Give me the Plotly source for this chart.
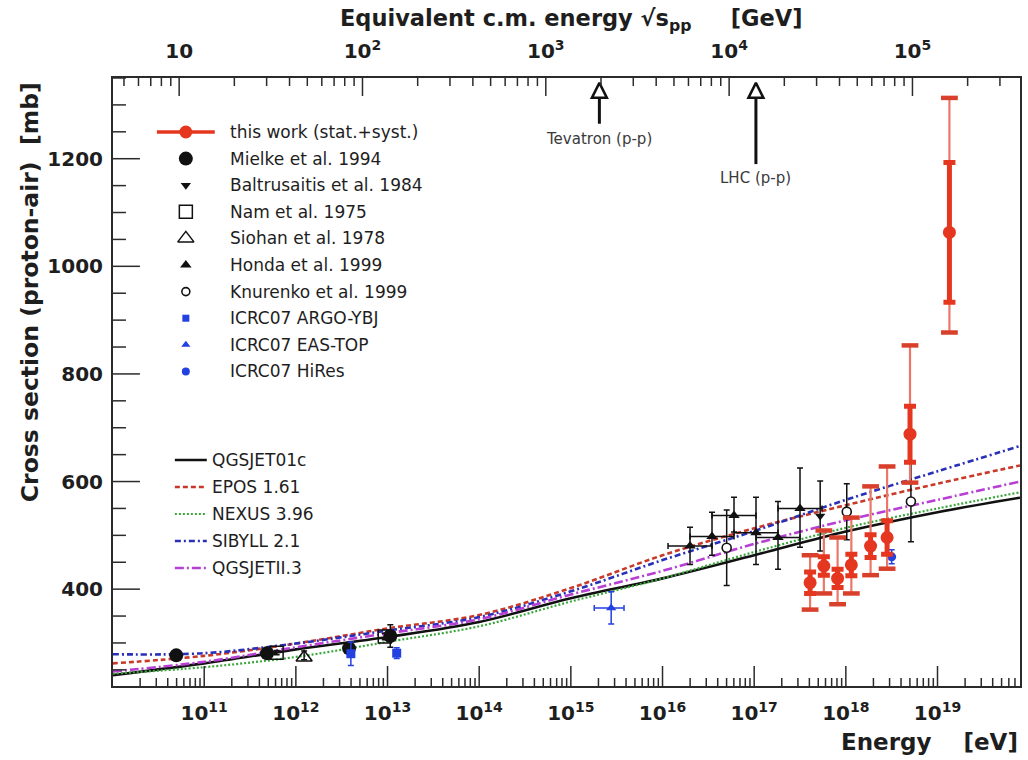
import numpy as np
import plotly.graph_objects as go

FONT = "DejaVu Sans"
AXIS_COLOR = "#2b2b2b"
TEXT_COLOR = "#1e1e1e"

# ---------------------------------------------------------------------------
# Model predictions: log10(E / eV) grid and proton-air cross section [mb]
# ---------------------------------------------------------------------------
model_log10E = [10.0, 11.0, 12.0, 13.0, 14.0, 15.0, 16.0, 17.0, 18.0, 19.0, 19.9]
qgsjet01c = [240, 262, 288, 311, 339, 383, 420, 463, 507, 543, 570]
epos161 = [262, 276, 299, 327, 352, 402, 463, 513, 556, 596, 630]
nexus396 = [243, 255, 274, 302, 331, 377, 420, 469, 514, 550, 580]
sibyll21 = [279, 281, 299, 323, 348, 396, 454, 508, 566, 619, 666]
qgsjetII3 = [247, 265, 292, 318, 344, 390, 434, 484, 528, 566, 600]

# ---------------------------------------------------------------------------
# Measurements (log10(E / eV), sigma [mb], errors [mb])
# ---------------------------------------------------------------------------
this_log10E = [17.61, 17.76, 17.91, 18.06, 18.27, 18.45, 18.70, 19.13]
this_sigma = [412, 443, 420, 445, 480, 496, 688, 1063]
this_stat = [20, 17, 17, 20, 21, 31, 52, 130]
this_tot_up = [51, 66, 76, 88, 111, 132, 165, 250]
this_tot_dn = [50, 51, 48, 53, 54, 58, 90, 186]

mielke_log10E = [10.695, 11.686, 12.58, 13.03]
mielke_sigma = [277, 281, 290, 313]
mielke_err = [4, 4, 6, 21]

baltrusaitis_log10E = [17.72]
baltrusaitis_sigma = [536]
baltrusaitis_err = [65]

nam_log10E = [11.79, 12.97]
nam_sigma = [282, 312]
nam_err = [4, 6]

siohan_log10E = [12.09]
siohan_sigma = [273]
siohan_err_up = [12]
siohan_err_dn = [4]

honda_log10E = [16.30, 16.54, 16.78, 17.02, 17.26, 17.50]
honda_sigma = [480, 498, 537, 505, 496, 550]
honda_err_up = [35, 45, 34, 66, 67, 75]
honda_err_dn = [34, 35, 31, 59, 59, 72]
honda_bin_halfwidth = [0.24, 0.24, 0.24, 0.24, 0.24, 0.24]  # decades

knurenko_log10E = [16.70, 18.01, 18.71]
knurenko_sigma = [477, 544, 563]
knurenko_err = [70, 52, 75]

argo_log10E = [12.60, 13.10]
argo_sigma = [280, 281]
argo_err = [22, 10]

eastop_log10E = [15.44]
eastop_sigma = [365]
eastop_err = [30]
eastop_bin_lo = [0.185]  # decades
eastop_bin_hi = [0.14]

hires_log10E = [18.50]
hires_sigma = [460]
hires_err = [13]

# collider reference energies (sqrt(s), GeV)
collider_names = ["Tevatron (p-p)", "LHC (p-p)"]
collider_sqrt_s = [1960.0, 14000.0]

# tick decades
energy_decades = [11, 12, 13, 14, 15, 16, 17, 18, 19]
sqrt_s_decades = [1, 2, 3, 4, 5]

# ---------------------------------------------------------------------------
M_PROTON = 0.938  # GeV
X_RANGE = [10.005, 19.9]      # log10(E/eV)
Y_RANGE = [220, 1350]          # mb
Y_MAJOR, Y_MINOR = 200, 50


def energy(log10E):
    return 10.0 ** np.asarray(log10E, dtype=float)


def log_sqrt_s(log10E):
    """log10 of the equivalent nucleon-nucleon c.m. energy in GeV."""
    return 0.5 * (np.asarray(log10E, dtype=float) - 9.0 + np.log10(2.0 * M_PROTON))


def log_minor_ticks(lo, hi):
    """2..9 x 10^n tick positions inside a log10 range."""
    vals = []
    for n in range(int(np.floor(lo)), int(np.ceil(hi)) + 1):
        for k in range(2, 10):
            v = k * 10.0 ** n
            if lo <= np.log10(v) <= hi:
                vals.append(v)
    return vals


def power_label(p):
    return "10" if p == 1 else "10<sup>%d</sup>" % p


# plot-area geometry in pixels (legend boxes and tick lengths are in pixels)
PLOT_L, PLOT_R, PLOT_T, PLOT_B = 113, 1022, 78, 686
PLOT_W, PLOT_H = PLOT_R - PLOT_L, PLOT_B - PLOT_T
MB_PER_PX = (Y_RANGE[1] - Y_RANGE[0]) / PLOT_H
DECADES_PER_PX = (X_RANGE[1] - X_RANGE[0]) / PLOT_W


def fx(px):
    return (px - PLOT_L) / PLOT_W


def fy(py):
    return (PLOT_B - py) / PLOT_H


def legend_x(px):
    """pixel column -> energy on the bottom log axis"""
    return 10.0 ** (X_RANGE[0] + fx(px) * (X_RANGE[1] - X_RANGE[0]))


def legend_y(py):
    """pixel row -> cross-section value on the left axis"""
    return Y_RANGE[0] + fy(py) * (Y_RANGE[1] - Y_RANGE[0])


fig = go.Figure()

# ---------------------------------------------------------------------------
# Model curves
# ---------------------------------------------------------------------------
model_lines = [
    ("QGSJET01c", qgsjet01c, dict(color="#111111", width=2.6, dash="solid")),
    ("EPOS 1.61", epos161, dict(color="#c8392a", width=2.6, dash="5px,3px")),
    ("NEXUS 3.96", nexus396, dict(color="#39a63a", width=2.2, dash="2px,2px")),
    ("SIBYLL 2.1", sibyll21, dict(color="#2830b8", width=2.6, dash="6px,3px,2px,3px")),
    ("QGSJETII.3", qgsjetII3, dict(color="#b83fd4", width=2.6, dash="9px,3px,2px,3px")),
]
for name, vals, style in model_lines:
    fig.add_trace(go.Scatter(
        x=energy(model_log10E), y=vals, mode="lines", line=style, name=name,
        line_shape="spline", showlegend=False, hoverinfo="skip"))

# ---------------------------------------------------------------------------
# Other measurements
# ---------------------------------------------------------------------------
BLACK = "#111111"
BLUE = "#2340e0"


def add_points(log10E, sigma, err_up, err_dn, marker, bar_color=BLACK,
               bin_lo=None, bin_hi=None):
    E = energy(log10E)
    kw = {}
    if bin_lo is not None:
        kw["error_x"] = dict(
            type="data", symmetric=False,
            array=E * (10.0 ** np.asarray(bin_hi) - 1.0),
            arrayminus=E * (1.0 - 10.0 ** -np.asarray(bin_lo)),
            color=bar_color, thickness=1.5, width=3)
    fig.add_trace(go.Scatter(
        x=E, y=sigma, mode="markers", marker=marker, showlegend=False,
        hoverinfo="skip",
        error_y=dict(type="data", symmetric=False, array=err_up,
                     arrayminus=err_dn, color=bar_color, thickness=1.5, width=3),
        **kw))


MK = {
    "mielke": dict(symbol="circle", size=14, color=BLACK),
    "baltrusaitis": dict(symbol="triangle-down", size=9, color=BLACK),
    "nam": dict(symbol="square-open", size=13, color=BLACK, line=dict(width=1.5, color=BLACK)),
    "siohan": dict(symbol="triangle-up-open", size=14, color=BLACK, line=dict(width=1.5, color=BLACK)),
    "honda": dict(symbol="triangle-up", size=10, color=BLACK),
    "knurenko": dict(symbol="circle", size=9, color="white", line=dict(width=1.6, color=BLACK)),
    "argo": dict(symbol="square", size=9, color=BLUE),
    "eastop": dict(symbol="triangle-up", size=9, color=BLUE),
    "hires": dict(symbol="circle", size=9, color=BLUE),
}

add_points(nam_log10E, nam_sigma, nam_err, nam_err, MK["nam"])
add_points(mielke_log10E, mielke_sigma, mielke_err, mielke_err, MK["mielke"])
add_points(siohan_log10E, siohan_sigma, siohan_err_up, siohan_err_dn, MK["siohan"])
add_points(argo_log10E, argo_sigma, argo_err, argo_err, MK["argo"], bar_color=BLUE)
add_points(eastop_log10E, eastop_sigma, eastop_err, eastop_err, MK["eastop"],
           bar_color=BLUE, bin_lo=eastop_bin_lo, bin_hi=eastop_bin_hi)
add_points(honda_log10E, honda_sigma, honda_err_up, honda_err_dn, MK["honda"],
           bin_lo=honda_bin_halfwidth, bin_hi=honda_bin_halfwidth)
add_points(baltrusaitis_log10E, baltrusaitis_sigma, baltrusaitis_err,
           baltrusaitis_err, MK["baltrusaitis"])
add_points(knurenko_log10E, knurenko_sigma, knurenko_err, knurenko_err, MK["knurenko"])
add_points(hires_log10E, hires_sigma, hires_err, hires_err, MK["hires"], bar_color=BLUE)

# ---------------------------------------------------------------------------
# This work: total (stat.+syst.) outer bars, statistical inner bars
# ---------------------------------------------------------------------------
RED = "#e5371f"
RED_LIGHT = "#e9786b"
E_this = energy(this_log10E)
sig_this = np.asarray(this_sigma, dtype=float)

fig.add_trace(go.Scatter(
    x=E_this, y=sig_this, mode="markers", showlegend=False, hoverinfo="skip",
    marker=dict(size=1, color="rgba(0,0,0,0)"),
    error_y=dict(type="data", symmetric=False, array=this_tot_up,
                 arrayminus=this_tot_dn, color=RED_LIGHT, thickness=2.2, width=0)))
fig.add_trace(go.Scatter(
    x=np.concatenate([E_this, E_this]),
    y=np.concatenate([sig_this + np.asarray(this_tot_up), sig_this - np.asarray(this_tot_dn)]),
    mode="markers", showlegend=False, hoverinfo="skip",
    marker=dict(symbol="line-ew", size=12, line=dict(width=4.5, color="#d9402c"))))
fig.add_trace(go.Scatter(
    x=E_this, y=sig_this, mode="markers", name="this work (stat.+syst.)",
    showlegend=False, hoverinfo="skip",
    marker=dict(symbol="circle", size=13, color=RED),
    error_y=dict(type="data", array=this_stat, color=RED, thickness=5, width=6)))

# ---------------------------------------------------------------------------
# Collider reference arrows on the c.m. energy axis
# ---------------------------------------------------------------------------
arrow_tip = 1341
arrow_base = [1265, 1190]
label_y = [1236, 1165]
for name, ss, base, ly in zip(collider_names, collider_sqrt_s, arrow_base, label_y):
    fig.add_trace(go.Scatter(
        x=[ss, ss], y=[base, arrow_tip - 30], mode="lines", xaxis="x2", yaxis="y",
        line=dict(color="#111111", width=3), showlegend=False, hoverinfo="skip"))
    fig.add_trace(go.Scatter(
        x=[ss], y=[arrow_tip], mode="markers", xaxis="x2", yaxis="y",
        marker=dict(symbol="arrow-up-open", size=15, color="#111111",
                    line=dict(width=2.5, color="#111111")),
        showlegend=False, hoverinfo="skip"))
    fig.add_annotation(x=np.log10(ss), y=ly, xref="x2", yref="y", text=name,
                       showarrow=False, xanchor="center", yanchor="middle",
                       font=dict(family=FONT, size=15, color="#3a3a3a"))

# ---------------------------------------------------------------------------
# Inward tick marks (ROOT-style frame), drawn as line traces on the axes
# ---------------------------------------------------------------------------
TICK_LINE = dict(color=AXIS_COLOR, width=1.5)
top_range = [float(v) for v in log_sqrt_s(X_RANGE)]


def tick_trace(xs, ys, xaxis="x"):
    fig.add_trace(go.Scatter(x=xs, y=ys, mode="lines", line=TICK_LINE, xaxis=xaxis,
                             yaxis="y", showlegend=False, hoverinfo="skip",
                             connectgaps=False))


def x_ticks(vals, length_px, from_top, xaxis):
    xs, ys = [], []
    if from_top:
        y0, y1 = Y_RANGE[1], Y_RANGE[1] - length_px * MB_PER_PX
    else:
        y0, y1 = Y_RANGE[0], Y_RANGE[0] + length_px * MB_PER_PX
    for v in vals:
        xs += [v, v, None]
        ys += [y0, y1, None]
    tick_trace(xs, ys, xaxis)


x_ticks([10.0 ** p for p in energy_decades], 20, False, "x")
x_ticks(log_minor_ticks(*X_RANGE), 8, False, "x")
x_ticks([10.0 ** p for p in sqrt_s_decades], 18, True, "x2")
x_ticks(log_minor_ticks(*top_range), 8, True, "x2")

y_major_vals = [v for v in range(0, int(Y_RANGE[1]) + 1, Y_MAJOR) if v >= Y_RANGE[0]]
y_minor_vals = [v for v in range(0, int(Y_RANGE[1]) + 1, Y_MINOR)
                if v >= Y_RANGE[0] and v % Y_MAJOR]
for vals, length_px in ((y_major_vals, 27), (y_minor_vals, 13)):
    x0 = 10.0 ** X_RANGE[0]
    x1 = 10.0 ** (X_RANGE[0] + length_px * DECADES_PER_PX)
    xs, ys = [], []
    for v in vals:
        xs += [x0, x1, None]
        ys += [v, v, None]
    tick_trace(xs, ys)

# ---------------------------------------------------------------------------
# Legends (symbols placed on the main axes, labels as annotations)
# ---------------------------------------------------------------------------
LEG_FONT = dict(family=FONT, size=17, color=TEXT_COLOR)


def leg_trace(xs, ys, **kw):
    fig.add_trace(go.Scatter(x=[legend_x(v) for v in xs], y=[legend_y(v) for v in ys],
                             showlegend=False, hoverinfo="skip", cliponaxis=False, **kw))


def leg_text(px, py, text):
    fig.add_annotation(x=fx(px), y=fy(py), xref="paper", yref="paper", text=text,
                       showarrow=False, xanchor="left", yanchor="middle", font=LEG_FONT)


leg1_entries = [
    ("this work (stat.+syst.)", None),
    ("Mielke et al. 1994", MK["mielke"]),
    ("Baltrusaitis et al. 1984", MK["baltrusaitis"]),
    ("Nam et al. 1975", MK["nam"]),
    ("Siohan et al. 1978", MK["siohan"]),
    ("Honda et al. 1999", MK["honda"]),
    ("Knurenko et al. 1999", dict(MK["knurenko"], size=8)),
    ("ICRC07 ARGO-YBJ", dict(MK["argo"], size=7)),
    ("ICRC07 EAS-TOP", dict(MK["eastop"], size=8)),
    ("ICRC07 HiRes", dict(MK["hires"], size=8)),
]
LEG1_TOP, LEG1_STEP, LEG1_SYM_X, LEG1_TXT_X = 132, 26.6, 186, 228
for i, (label, marker) in enumerate(leg1_entries):
    row = LEG1_TOP + i * LEG1_STEP
    if marker is None:
        leg_trace([157, 215], [row, row], mode="lines", line=dict(color=RED, width=3.5))
        leg_trace([LEG1_SYM_X], [row], mode="markers",
                  marker=dict(symbol="circle", size=13, color=RED))
    else:
        leg_trace([LEG1_SYM_X], [row], mode="markers", marker=marker)
    leg_text(LEG1_TXT_X, row, label)

LEG2_TOP, LEG2_STEP = 460, 27
for i, (name, _, style) in enumerate(model_lines):
    row = LEG2_TOP + i * LEG2_STEP
    leg_trace([175, 207], [row, row], mode="lines", line=style)
    leg_text(210, row, name)

# ---------------------------------------------------------------------------
# Axis titles
# ---------------------------------------------------------------------------
NB = "\u00a0"
fig.add_annotation(
    x=fx(572), y=fy(20), xref="paper", yref="paper", showarrow=False,
    xanchor="center", yanchor="middle",
    text="Equivalent c.m. energy \u221as<sub>pp</sub>" + NB * 5 + "[GeV]",
    font=dict(family=FONT, size=22.5, color=TEXT_COLOR, weight="bold"))
fig.add_annotation(
    x=1.0, y=fy(742), xref="paper", yref="paper", showarrow=False,
    xanchor="right", yanchor="middle", text="Energy" + NB * 4 + "[eV]",
    font=dict(family=FONT, size=23, color=TEXT_COLOR, weight="bold"))
fig.add_annotation(
    x=fx(30), y=fy(80), xref="paper", yref="paper", showarrow=False,
    xanchor="center", yanchor="top", textangle=-90,
    text="Cross section (proton-air)" + NB * 2 + "[mb]",
    font=dict(family=FONT, size=23.5, color=TEXT_COLOR, weight="bold"))

# ---------------------------------------------------------------------------
# Layout (axis ticks themselves are transparent spacers for the labels)
# ---------------------------------------------------------------------------
TICK_FONT = dict(family=FONT, size=20, color=TEXT_COLOR, weight="bold")
CLEAR = "rgba(0,0,0,0)"


def log_axis(rng, decades, side, gap, **extra):
    return dict(
        type="log", range=rng, side=side, anchor="y", showgrid=False,
        zeroline=False, showline=True, linecolor=AXIS_COLOR, linewidth=2,
        ticks="outside", ticklen=gap, tickcolor=CLEAR, tickmode="array",
        tickvals=[10.0 ** p for p in decades],
        ticktext=[power_label(p) for p in decades],
        tickfont=TICK_FONT, **extra)


fig.update_layout(
    width=1028, height=760,
    margin=dict(l=PLOT_L, r=1028 - PLOT_R, t=PLOT_T, b=760 - PLOT_B, pad=0),
    paper_bgcolor="white", plot_bgcolor="white",
    showlegend=False,
    font=dict(family=FONT, color=TEXT_COLOR),
    xaxis=log_axis(X_RANGE, energy_decades, "bottom", 8),
    xaxis2=log_axis(top_range, sqrt_s_decades, "top", 10, overlaying="x"),
    yaxis=dict(
        range=Y_RANGE, showgrid=False, zeroline=False, showline=True,
        linecolor=AXIS_COLOR, linewidth=2, mirror=True,
        ticks="outside", ticklen=4, tickcolor=CLEAR, tickmode="array",
        tickvals=y_major_vals, tickfont=TICK_FONT),
)

fig.write_html("out.html")
